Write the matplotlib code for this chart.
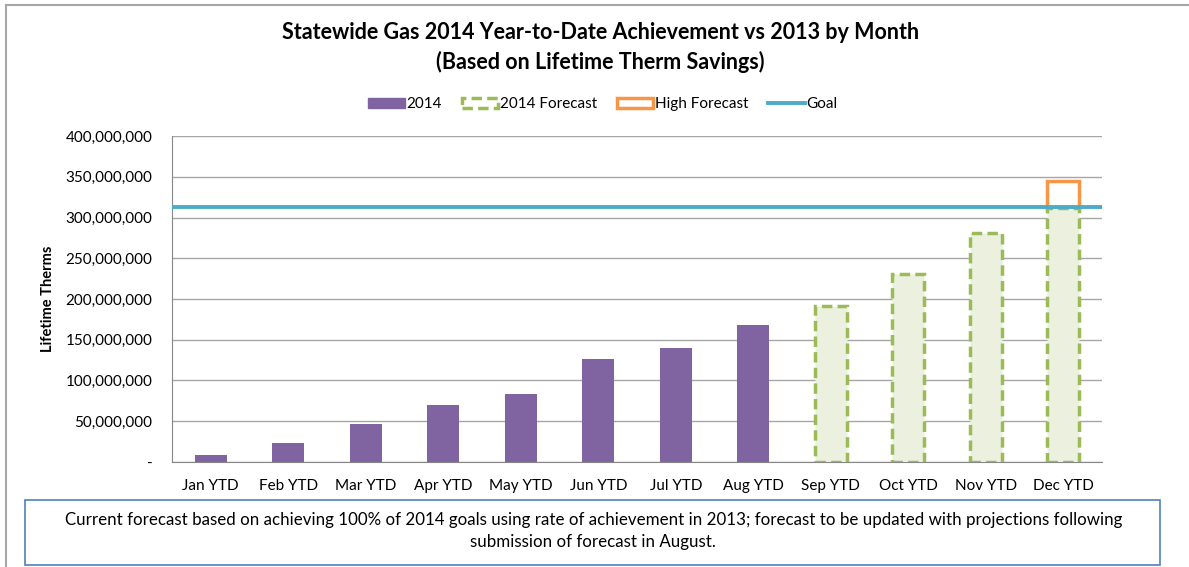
import numpy as np
import matplotlib.pyplot as plt
from matplotlib.patches import Patch, Rectangle
from matplotlib.lines import Line2D
from matplotlib.ticker import FuncFormatter

plt.rcParams['font.family'] = ['Lato', 'DejaVu Sans']

mois = ['Jan YTD', 'Feb YTD', 'Mar YTD', 'Apr YTD', 'May YTD', 'Jun YTD',
        'Jul YTD', 'Aug YTD', 'Sep YTD', 'Oct YTD', 'Nov YTD', 'Dec YTD']
reel_2014 = [9e6, 23e6, 46.5e6, 70e6, 83.5e6, 126e6, 140e6, 168e6, 0, 0, 0, 0]
prevision_2014 = [0, 0, 0, 0, 0, 0, 0, 0, 191e6, 231e6, 281e6, 312e6]
prevision_haute = [0, 0, 0, 0, 0, 0, 0, 0, 0, 0, 0, 345e6]
objectif = 313e6

violet = '#8064A2'
vert = '#9BBB59'
vert_clair = '#EBF1DE'
orange = '#F79646'
bleu = '#4BACC6'


def format_axe(val, pos):
    """
    milliers separes par des virgules, zero en tiret
    """
    if val == 0:
        return '-'
    return '{:,.0f}'.format(val)


fig = plt.figure(figsize=(11.89, 5.67), dpi=100)
ax = fig.add_axes([0.1447, 0.1852, 0.7821, 0.5749])

x = np.arange(len(mois))
largeur = 0.41
reel = np.array(reel_2014)
prev = np.array(prevision_2014)
haute = np.array(prevision_haute)

# on ne dessine que les barres non nulles
m1 = reel > 0
ax.bar(x[m1], reel[m1], largeur, color=violet, zorder=3)
m3 = haute > 0
ax.bar(x[m3], haute[m3] - prev[m3], largeur, bottom=prev[m3], facecolor='none',
       edgecolor=orange, linewidth=2.5, zorder=3)
m2 = prev > 0
ax.bar(x[m2], prev[m2], largeur, facecolor=vert_clair, edgecolor=vert,
       linewidth=2.5, linestyle=(0, (3, 1.5)), zorder=3)
ax.axhline(objectif, color=bleu, linewidth=2.8, zorder=4)

ax.set_xlim(-0.5, len(mois) - 0.5)
ax.set_ylim(0, 400e6)
ax.set_yticks(np.arange(0, 400e6 + 1, 50e6))
ax.yaxis.set_major_formatter(FuncFormatter(format_axe))
ax.set_xticks(x)
ax.set_xticklabels(mois)
ax.tick_params(length=0, labelsize=11, colors='black')
ax.tick_params(axis='x', pad=12)
ax.tick_params(axis='y', pad=14)
ax.grid(axis='y', color='#A6A6A6', linewidth=1, zorder=0)
for cote in ['top', 'right']:
    ax.spines[cote].set_visible(False)
ax.spines['left'].set_color('#868686')
ax.spines['bottom'].set_color('#868686')
ax.set_ylabel('Lifetime Therms', fontsize=10.5, fontweight='bold', labelpad=8)

fig.text(0.505, 0.942, 'Statewide Gas 2014 Year-to-Date Achievement vs 2013 by Month',
         ha='center', va='center', fontsize=15.5, fontweight='bold')
fig.text(0.505, 0.891, '(Based on Lifetime Therm Savings)',
         ha='center', va='center', fontsize=15.5, fontweight='bold')

poignees = [Patch(facecolor=violet, edgecolor=violet),
            Patch(facecolor='white', edgecolor=vert, linewidth=2.5, linestyle=(0, (3, 1.5))),
            Patch(facecolor='white', edgecolor=orange, linewidth=2.5),
            Line2D([0], [0], color=bleu, linewidth=2.8)]
fig.legend(poignees, ['2014', '2014 Forecast', 'High Forecast', 'Goal'],
           loc='center', bbox_to_anchor=(0.507, 0.816), ncol=4, frameon=False,
           fontsize=11, handlelength=2.4, handleheight=0.6, handletextpad=0.1,
           columnspacing=1.3)

# cadre exterieur du graphique
fig.add_artist(Line2D([6 / 1189, 6 / 1189], [0, 1 - 5 / 567], color='#A6A6A6',
                      linewidth=1.5, transform=fig.transFigure))
fig.add_artist(Line2D([6 / 1189, 1], [1 - 5 / 567, 1 - 5 / 567], color='#A6A6A6',
                      linewidth=1.5, transform=fig.transFigure))

# encadre du commentaire
fig.add_artist(Rectangle((25 / 1189, 2 / 567), 1135 / 1189, 65 / 567,
                         transform=fig.transFigure, facecolor='white',
                         edgecolor='#4F81BD', linewidth=1.2))
fig.text(0.499, 1 - 520 / 567,
         'Current forecast based on achieving 100% of 2014 goals using rate of '
         'achievement in 2013; forecast to be updated with projections following',
         ha='center', va='center', fontsize=12.2)
fig.text(0.499, 1 - 542 / 567, 'submission of forecast in August.',
         ha='center', va='center', fontsize=12.2)

fig.savefig('out.png', dpi=100)
